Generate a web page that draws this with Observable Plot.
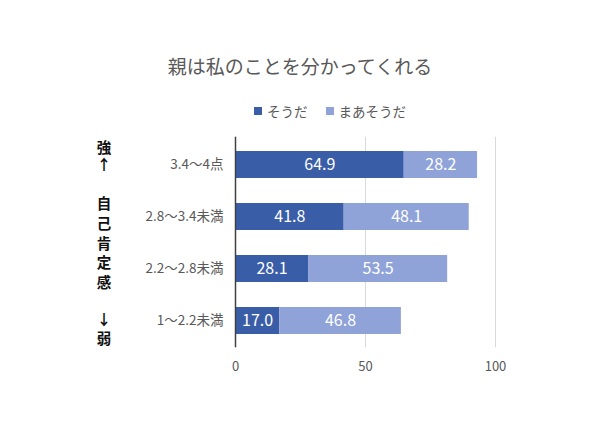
<!DOCTYPE html>
<html>
<head>
<meta charset="utf-8">
<script src="https://cdn.jsdelivr.net/npm/d3@7"></script>
<script src="https://cdn.jsdelivr.net/npm/@observablehq/plot@0.6"></script>
<style>
  html, body { margin: 0; padding: 0; background: #fff; }
  #wrap { position: relative; width: 600px; height: 423px; font-family: "Noto Sans CJK JP", "Noto Sans", sans-serif; }
  #chart { position: absolute; left: 0; top: 0; }
  #title { position: absolute; left: 0; width: 600px; top: 52px; text-align: center; font-size: 19px; color: #595959; line-height: 28px; }
  #legend { position: absolute; left: 0; width: 600px; top: 101px; display: flex; justify-content: center; font-size: 13.5px; color: #595959; line-height: 20px; padding-left: 60px; box-sizing: border-box; }
  #legend .item { display: flex; align-items: center; margin: 0 9px; }
  #legend .sw { width: 8px; height: 8px; margin-right: 5px; }
  #side { position: absolute; left: 93px; width: 22px; text-align: center; font-size: 14.5px; font-weight: bold; color: #111; }
  #side div { position: absolute; left: 0; width: 22px; white-space: pre-line; }
</style>
</head>
<body>
<div id="wrap">
  <div id="chart"></div>
  <div id="title"></div>
  <div id="legend"></div>
  <div id="side"></div>
</div>
<script>
const title = "親は私のことを分かってくれる";
const categories = ["3.4〜4点", "2.8〜3.4未満", "2.2〜2.8未満", "1〜2.2未満"];
const seriesNames = ["そうだ", "まあそうだ"];
const seriesColors = ["#3A5DA8", "#8FA3D9"];
const soudaValues = [64.9, 41.8, 28.1, 17.0];
const maaSoudaValues = [28.2, 48.1, 53.5, 46.8];
const xTicks = [0, 50, 100];
// side annotation: [text, first-line centre y, line height]
const sideLabels = [["強\n↑", 146, 17], ["自\n己\n肯\n定\n感", 203, 19.75], ["↓\n弱", 318, 19]];

const data = [];
categories.forEach((c, i) => {
  data.push({cat: c, series: seriesNames[0], value: soudaValues[i]});
  data.push({cat: c, series: seriesNames[1], value: maaSoudaValues[i]});
});

document.getElementById("title").textContent = title;
const legend = document.getElementById("legend");
seriesNames.forEach((s, i) => {
  const it = document.createElement("div");
  it.className = "item";
  const sw = document.createElement("span");
  sw.className = "sw";
  sw.style.background = seriesColors[i];
  const t = document.createElement("span");
  t.textContent = s;
  it.appendChild(sw); it.appendChild(t);
  legend.appendChild(it);
});
const side = document.getElementById("side");
sideLabels.forEach(([txt, y, lh]) => {
  const d = document.createElement("div");
  d.textContent = txt;
  d.style.lineHeight = lh + "px";
  d.style.top = (y - lh / 2) + "px";
  side.appendChild(d);
});

const plot = Plot.plot({
  width: 600,
  height: 423,
  marginLeft: 235,
  marginRight: 105,
  marginTop: 136.7,
  marginBottom: 75.7,
  style: {fontFamily: "'Noto Sans CJK JP', sans-serif", background: "transparent"},
  x: {domain: [0, 100], ticks: xTicks, tickSize: 0, label: null},
  y: {domain: categories, paddingInner: 0.487, paddingOuter: 0.2435, tickSize: 0, label: null},
  color: {domain: seriesNames, range: seriesColors},
  marks: [
    Plot.ruleX(xTicks.filter(d => d > 0), {stroke: "#d9d9d9", strokeWidth: 1}),
    Plot.barX(data, Plot.stackX({x: "value", y: "cat", fill: "series"})),
    Plot.text(data, Plot.stackX({x: "value", y: "cat", z: "series", text: d => d.value.toFixed(1), fill: "white", fontSize: 16})),
    Plot.ruleX([0], {stroke: "#404040", strokeWidth: 1.5}),
    Plot.axisX({ticks: xTicks, tickSize: 0, tickPadding: 14, fontSize: 13, fill: "#595959", label: null}),
    Plot.axisY({tickSize: 0, tickPadding: 12, fontSize: 13.5, fill: "#595959", label: null})
  ]
});
document.getElementById("chart").appendChild(plot);
</script>
</body>
</html>
